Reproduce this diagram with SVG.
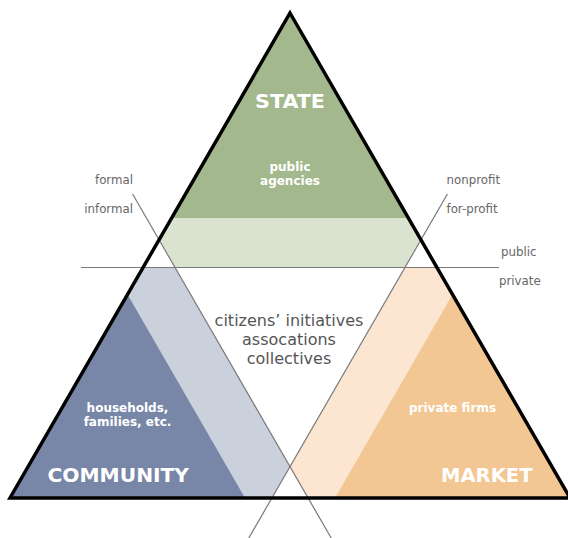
<svg xmlns="http://www.w3.org/2000/svg" width="568" height="538" viewBox="0 0 568 538">
<style>
.thin{stroke:#7a7a7a;stroke-width:1.2;fill:none}
.lbl{font-family:"DejaVu Sans",Verdana,sans-serif;font-size:11.8px;fill:#666}
.big{font-family:"DejaVu Sans",Verdana,sans-serif;font-weight:bold;font-size:19px;fill:#fff}
.sub{font-family:"DejaVu Sans",Verdana,sans-serif;font-weight:bold;font-size:12px;fill:#fff;text-anchor:middle}
.mid{font-family:"DejaVu Sans",Verdana,sans-serif;font-size:16px;fill:#555;text-anchor:middle}
</style>
<rect width="568" height="538" fill="#fff"/>
<g id="state">
<polygon points="290,13 408.4,218 171.6,218" fill="#a3b88c"/>
<polygon points="171.6,218 408.4,218 420.9,239.8 405,267.5 175,267.5 159.1,239.8" fill="#dae3cf"/>
<text class="big" x="290" y="107.5" text-anchor="middle" textLength="70" lengthAdjust="spacingAndGlyphs">STATE</text>
<text class="sub" x="290" y="171">public</text>
<text class="sub" x="290" y="185">agencies</text>
</g>
<g id="community">
<polygon points="143.1,267.5 175,267.5 290,466.7 271.9,498 10,498" fill="#cbd0dd"/>
<polygon points="127.5,294.5 245,498 10,498" fill="#7886a8"/>
<text class="sub" x="127.5" y="412">households,</text>
<text class="sub" x="127.5" y="426">families, etc.</text>
<text class="big" x="47.5" y="482" textLength="141.5" lengthAdjust="spacingAndGlyphs">COMMUNITY</text>
</g>
<g id="market">
<polygon points="405,267.5 436.9,267.5 570,498 308.1,498 290,466.7" fill="#fce6d1"/>
<polygon points="452.5,294.5 570,498 335,498" fill="#f2c793"/>
<text class="sub" x="452.5" y="412">private firms</text>
<text class="big" x="441" y="482" textLength="91.5" lengthAdjust="spacingAndGlyphs">MARKET</text>
</g>
<g id="third-sector">
<text class="mid" x="289" y="326">citizens’ initiatives</text>
<text class="mid" x="289" y="345">assocations</text>
<text class="mid" x="289" y="364">collectives</text>
</g>
<g id="connectors">
<line class="thin" x1="132.6" y1="194" x2="331.2" y2="538"/>
<line class="thin" x1="447.4" y1="194" x2="248.8" y2="538"/>
<line class="thin" x1="81" y1="267.5" x2="499" y2="267.5"/>
<polygon points="290,13 570,498 10,498" fill="none" stroke="#000" stroke-width="3.5" stroke-linejoin="miter"/>
</g>
<g id="labels">
<text class="lbl" x="133" y="184" text-anchor="end">formal</text>
<text class="lbl" x="133" y="213" text-anchor="end">informal</text>
<text class="lbl" x="446.5" y="184">nonprofit</text>
<text class="lbl" x="446.5" y="213">for-profit</text>
<text class="lbl" x="501" y="256">public</text>
<text class="lbl" x="499" y="285">private</text>
</g>
</svg>
